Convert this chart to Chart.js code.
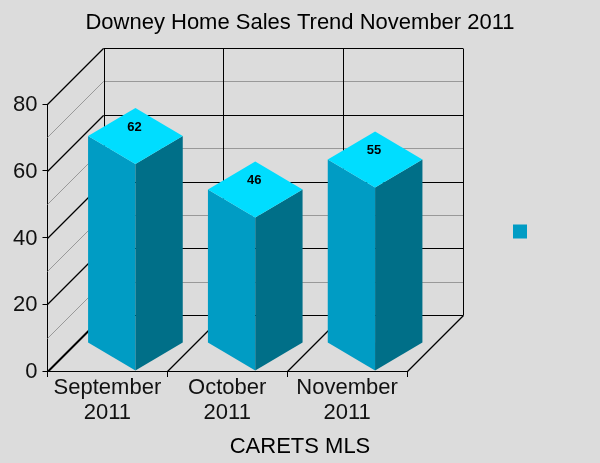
<!DOCTYPE html>
<html>
<head>
<meta charset="utf-8">
<style>
  html, body { margin: 0; padding: 0; background: #dcdcdc; }
  canvas { display: block; }
</style>
<script src="https://cdn.jsdelivr.net/npm/chart.js@4/dist/chart.umd.js"></script>
</head>
<body>
<canvas id="myChart" width="600" height="463"></canvas>
<script>
const months = [['September', '2011'], ['October', '2011'], ['November', '2011']];
const sales = [62, 46, 55];
const yMax = 80;
const yStep = 20;
const gridStep = 10;

const FONT = 'Arial, "Liberation Sans", sans-serif';
const DEPTH = 56;

const FRONT_COLOR = '#009cc4';
const SIDE_COLOR = '#006f88';
const TOP_COLOR = '#00ddff';

function face(ctx, color, pts) {
    ctx.fillStyle = color;
    ctx.beginPath();
    pts.forEach((p, i) => i ? ctx.lineTo(p[0], p[1]) : ctx.moveTo(p[0], p[1]));
    ctx.closePath();
    ctx.fill();
}

// bar element that paints a box instead of a flat rectangle
class Box3d extends Chart.BarElement {
    draw(ctx) {
        const hw = this.width / 2;
        const d = DEPTH / 2;
        const fx = this.x + d;
        const y = this.y;
        const b = this.base;
        face(ctx, FRONT_COLOR, [[fx - hw, y - d], [fx, y], [fx, b], [fx - hw, b - d]]);
        face(ctx, SIDE_COLOR, [[fx, y], [fx + hw, y - d], [fx + hw, b - d], [fx, b]]);
        face(ctx, TOP_COLOR, [[fx - hw, y - d], [fx, y - DEPTH], [fx + hw, y - d], [fx, y]]);
    }
}
Box3d.id = 'box3d';
Box3d.defaults = Chart.BarElement.defaults;

class Bar3d extends Chart.BarController {}
Bar3d.id = 'bar3d';
Bar3d.defaults = Object.assign({}, Chart.BarController.defaults, { dataElementType: 'box3d' });
Bar3d.overrides = Chart.BarController.overrides;

Chart.register(Box3d, Bar3d);

function line(ctx, x1, y1, x2, y2, color, width) {
    ctx.strokeStyle = color;
    ctx.lineWidth = width || 1;
    ctx.beginPath();
    ctx.moveTo(x1, y1);
    ctx.lineTo(x2, y2);
    ctx.stroke();
}

const walls = {
    id: 'walls',
    beforeLayout(chart) {
        // legend keeps the blank strip right of the plot
        chart.legend.fit = function () {
            Object.getPrototypeOf(this).fit.call(this);
            this.width = 193;
        };
    },
    beforeDatasetsDraw(chart) {
        const ctx = chart.ctx;
        const xs = chart.scales.x;
        const ys = chart.scales.y;
        const left = xs.left;
        const right = xs.right;
        ctx.save();
        // side and back walls, grey lines first so black ones stay on top
        for (const major of [false, true]) {
            for (let v = 0; v <= yMax; v += gridStep) {
                if ((v % yStep === 0) !== major) continue;
                const y = Math.round(ys.getPixelForValue(v)) + 0.5;
                const color = major ? '#000' : '#999';
                line(ctx, left, y, left + DEPTH, y - DEPTH, color, major ? 1.2 : 1);
                line(ctx, left + DEPTH, y - DEPTH, right + DEPTH, y - DEPTH, color);
            }
        }
        const top = Math.round(ys.getPixelForValue(yMax)) + 0.5 - DEPTH;
        const floor = Math.round(ys.getPixelForValue(0)) + 0.5;
        // category dividers across the floor and up the back wall
        for (let i = 0; i <= months.length; i++) {
            const x = Math.round(left + (right - left) * i / months.length) + 0.5;
            line(ctx, x, floor, x + DEPTH, floor - DEPTH, '#000', 1.2);
            line(ctx, x + DEPTH, floor - DEPTH, x + DEPTH, top, '#000');
        }
        ctx.restore();
    },
    afterDatasetsDraw(chart) {
        const ctx = chart.ctx;
        ctx.save();
        ctx.fillStyle = '#000';
        ctx.font = 'bold 13px ' + FONT;
        ctx.textAlign = 'center';
        ctx.textBaseline = 'middle';
        chart.getDatasetMeta(0).data.forEach((bar, i) => {
            ctx.fillText(sales[i], bar.x + DEPTH / 2 - 1, bar.y - DEPTH + 19);
        });
        ctx.restore();
    }
};

new Chart(document.getElementById('myChart'), {
    type: 'bar3d',
    data: {
        labels: months,
        datasets: [{
            label: '',
            data: sales,
            backgroundColor: FRONT_COLOR,
            borderWidth: 0,
            barPercentage: 0.79,
            categoryPercentage: 1,
            clip: false
        }]
    },
    options: {
        responsive: false,
        animation: false,
        plugins: {
            tooltip: { enabled: false },
            title: {
                display: true,
                text: 'Downey Home Sales Trend November 2011',
                color: '#000',
                font: { family: FONT, size: 22, weight: 'normal', lineHeight: 1.2 },
                padding: { top: 10, bottom: 67.6 }
            },
            subtitle: {
                display: true,
                position: 'bottom',
                text: 'CARETS MLS',
                color: '#000',
                font: { family: FONT, size: 22, weight: 'normal', lineHeight: 1.2 },
                padding: { top: 0, bottom: 2.8 }
            },
            legend: {
                display: true,
                position: 'right',
                align: 'center',
                labels: {
                    boxWidth: 14,
                    boxHeight: 14,
                    padding: 106,
                    font: { size: 14 }
                }
            }
        },
        scales: {
            x: {
                afterFit(scale) { scale.height = 62.8; },
                grid: { drawOnChartArea: false, color: '#000', tickLength: 6, offset: true },
                border: { color: '#000' },
                ticks: { color: '#111', maxRotation: 0, padding: -2, font: { family: FONT, size: 22, lineHeight: 1.15 } }
            },
            y: {
                min: 0,
                max: yMax,
                afterFit(scale) { scale.width = 47.5; },
                grid: { drawOnChartArea: false, color: '#000', tickLength: 5 },
                border: { color: '#000' },
                ticks: { color: '#111', stepSize: yStep, padding: 5, labelOffset: 1, font: { family: FONT, size: 22 } }
            }
        }
    },
    plugins: [walls]
});
</script>
</body>
</html>
